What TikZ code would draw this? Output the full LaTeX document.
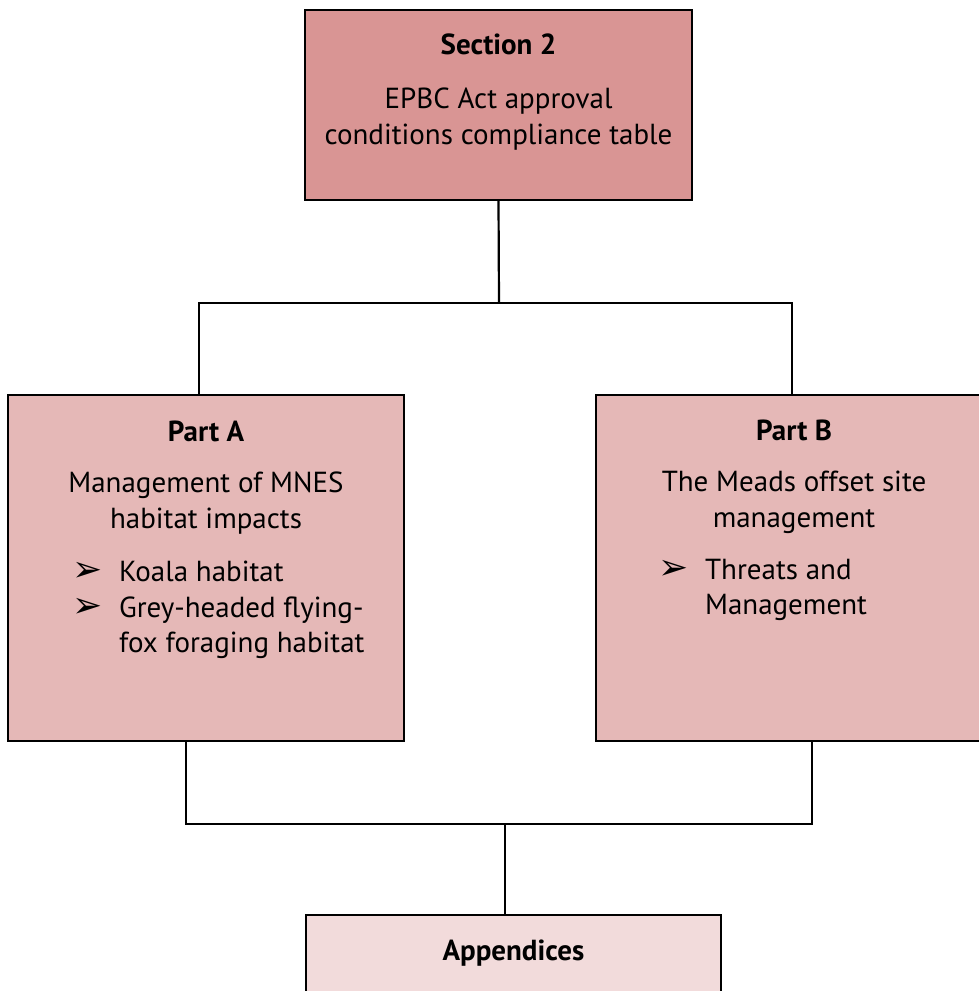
\documentclass[tikz,border=0pt]{standalone}
\usepackage{fontspec}
\setmainfont{PT Sans}
\newfontfamily\symfont{DejaVu Sans}
\usepackage{xcolor}
\usetikzlibrary{calc}
\usetikzlibrary{positioning}
\definecolor{secfill}{HTML}{D99594}
\definecolor{partfill}{HTML}{E5B8B7}
\definecolor{appfill}{HTML}{F2DBDB}
\newcommand{\bul}{\makebox[47pt][l]{\fontsize{36}{35}\symfont\char"27A2}}
\newcommand{\nobul}{\makebox[47pt]{}}

\begin{document}
\begin{tikzpicture}[x=1pt, y=1pt, font=\fontsize{29}{35.5}\selectfont]

                \useasboundingbox (0, 0) rectangle (979, 991);

                % Boxes and their texts
                \tikzset{box/.style={draw, line width=2.2pt, inner sep=0pt},
                         head/.style={font=\fontsize{29}{35.5}\selectfont\bfseries,
                                      anchor=base, inner sep=0pt},
                         body/.style={align=center, anchor=north, inner sep=0pt},
                         items/.style={align=left, anchor=north west, inner sep=0pt}}

                \begin{scope}
                    \node (sec) [box, fill=secfill, minimum width=387pt,
                    minimum height=190pt] at (498.5, 886) {};
                    \node (secT) [head] at ([yshift=-46pt]sec.north)
                    {Section 2};
                    \node (secB) [body] at ([yshift=-79pt]sec.north)
                    {EPBC Act approval\\conditions compliance table};

                    \node (partA) [box, fill=partfill, minimum width=396pt,
                    minimum height=346pt] at (206, 423) {};
                    \node (partAT) [head] at ([yshift=-48pt]partA.north)
                    {Part A};
                    \node (partAB) [body] at ([yshift=-78pt]partA.north)
                    {Management of MNES\\habitat impacts};
                    \node (partAL) [items] at ([xshift=65pt, yshift=-167pt]partA.north west)
                    {\bul Koala habitat\\\bul Grey-headed flying-\\\nobul fox foraging habitat};

                    \node (partB) [box, fill=partfill, minimum width=396pt,
                    minimum height=346pt] at (794, 423) {};
                    \node (partBT) [head] at ([yshift=-47pt]partB.north)
                    {Part B};
                    \node (partBB) [body] at ([yshift=-77pt]partB.north)
                    {The Meads offset site\\management};
                    \node (partBL) [items] at ([xshift=63pt, yshift=-165pt]partB.north west)
                    {\bul Threats and\\\nobul Management};

                    \node (app) [box, fill=appfill, minimum width=415pt,
                    minimum height=100pt] at (513.5, 26) {};
                    \node (appT) [head] at ([yshift=-47pt]app.north)
                    {Appendices};
                \end{scope}

                % Joints of the connectors
                \coordinate (upper) at (499, 688);
                \coordinate (lower) at (505, 167);

                \begin{scope}[line width=2.2pt]
                    \draw (sec.south) -- (upper);
                    \draw ([xshift=-7pt]partA.north) |- (upper);
                    \draw ([xshift=-2pt]partB.north) |- (upper);
                    \draw ([xshift=-20pt]partA.south) |- (lower);
                    \draw ([xshift=18pt]partB.south) |- (lower);
                    \draw (lower) -- ([xshift=-8.5pt]app.north);
                \end{scope}

                \end{tikzpicture}
\end{document}
